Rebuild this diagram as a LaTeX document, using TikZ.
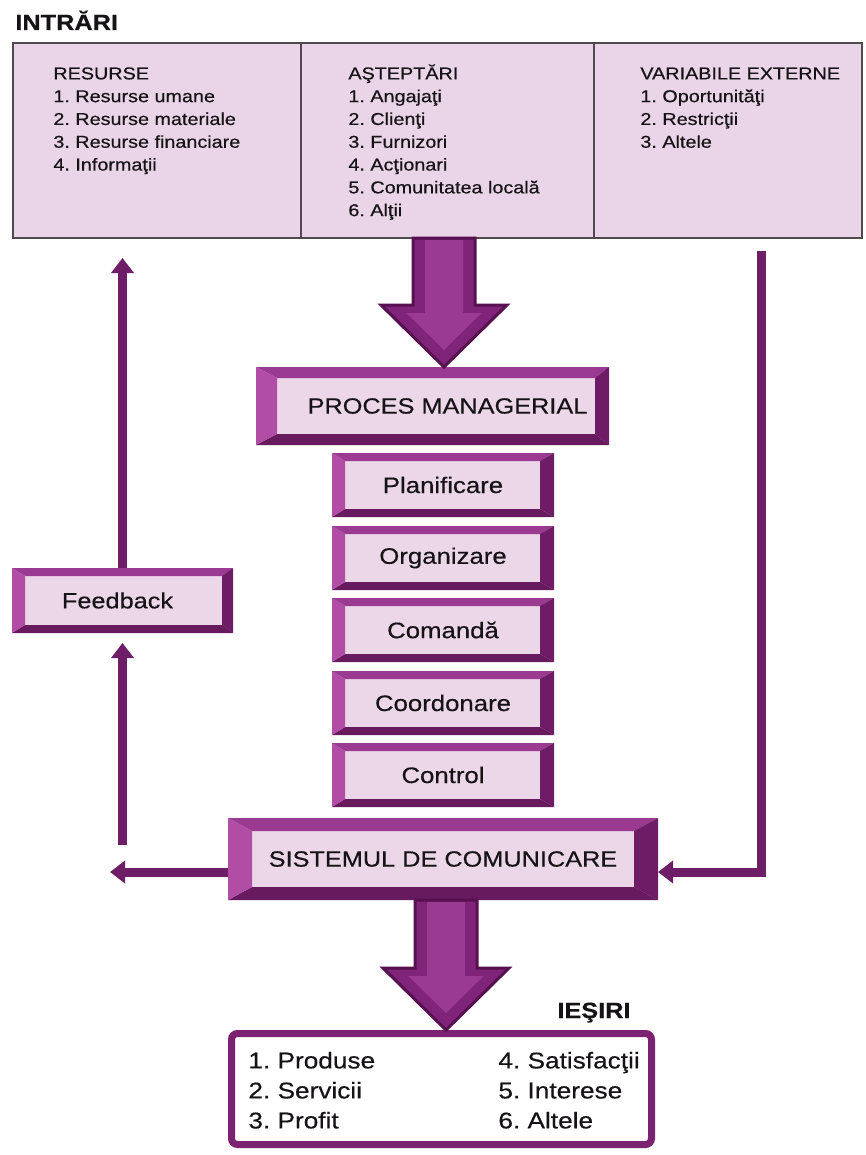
\documentclass[tikz,border=0pt]{standalone}
\usepackage{fontspec}
\setmainfont{Liberation Sans}[FakeStretch=1.15, FakeBold=0.4]
\usetikzlibrary{calc,arrows.meta}
\frenchspacing

\definecolor{cellfill}{HTML}{E9D5E7}
\definecolor{cellline}{HTML}{4F4A4E}
\definecolor{panel}{HTML}{ECD7E9}
\definecolor{facetopc}{HTML}{9A3A90}
\definecolor{faceleftc}{HTML}{B14DA5}
\definecolor{facerightc}{HTML}{6E1C65}
\definecolor{facebottomc}{HTML}{681A5F}
\definecolor{arrowbody}{HTML}{80247A}
\definecolor{arrowlight}{HTML}{9B3A92}
\definecolor{arrowedge}{HTML}{581150}
\definecolor{linkc}{HTML}{6E1E66}
\definecolor{outline}{HTML}{7B2271}
\definecolor{inkc}{HTML}{161316}

% bevelled frame around a node: #2 left, #3 right, #4 top, #5 bottom widths
\newcommand\bevelframe[5]{%
  \fill[facetopc] (#1.north west) -- (#1.north east) -- ($(#1.north east)+(-#3,#4)$) -- ($(#1.north west)+(#2,#4)$) -- cycle;
  \fill[facerightc] (#1.north east) -- (#1.south east) -- ($(#1.south east)+(-#3,-#5)$) -- ($(#1.north east)+(-#3,#4)$) -- cycle;
  \fill[facebottomc] (#1.south west) -- (#1.south east) -- ($(#1.south east)+(-#3,-#5)$) -- ($(#1.south west)+(#2,-#5)$) -- cycle;
  \fill[faceleftc] (#1.north west) -- (#1.south west) -- ($(#1.south west)+(#2,-#5)$) -- ($(#1.north west)+(#2,#4)$) -- cycle;
}

% broad block arrow from the top point #1 down to the level of #2
\newcommand\fatarrow[2]{%
  \filldraw[fill=arrowbody, draw=arrowedge, line width=1.5pt, line join=miter]
    let \p1=(#1), \p2=(#2) in
    (\x1-15.5pt,\y1) -- (\x1+15.5pt,\y1) -- (\x1+15.5pt,\y2+31pt) -- (\x1+31.5pt,\y2+31pt)
    -- (\x1,\y2) -- (\x1-31.5pt,\y2+31pt) -- (\x1-15.5pt,\y2+31pt) -- cycle;
  \fill[arrowlight]
    let \p1=(#1), \p2=(#2) in
    (\x1-9.5pt,\y1-1pt) -- (\x1+9.5pt,\y1-1pt) -- (\x1+9.5pt,\y2+27pt) -- (\x1+18.8pt,\y2+27pt)
    -- (\x1,\y2+8.5pt) -- (\x1-18.8pt,\y2+27pt) -- (\x1-9.5pt,\y2+27pt) -- cycle;
}

\begin{document}
\begin{tikzpicture}[x=0.5pt,y=-0.5pt,
  cell/.style={rectangle, draw=cellline, line width=1.2pt, fill=cellfill, inner sep=0pt,
    outer sep=0pt, minimum height=97.5pt, anchor=north west},
  listtxt/.style={anchor=north west, inner sep=0pt, align=left, text=inkc,
    font=\fontsize{8.6}{11.4}\selectfont},
  heading/.style={anchor=base west, inner sep=0pt, text=inkc,
    font=\bfseries\fontsize{11}{13}\selectfont},
  bevelbox/.style={rectangle, fill=panel, inner sep=0pt, outer sep=0pt, text=inkc,
    font=\fontsize{11}{13}\selectfont},
  stagebox/.style={bevelbox, minimum width=111pt, minimum height=32pt,
    font=\fontsize{11.2}{13}\selectfont},
  conn/.style={draw=linkc, line width=4.5pt, -{Triangle[length=7.5pt,width=11pt]}},
  outbox/.style={rectangle, draw=outline, line width=3.5pt, rounded corners=3pt, fill=white,
    inner sep=0pt, minimum width=210pt, minimum height=55.5pt},
  outtxt/.style={anchor=north west, inner sep=0pt, align=left, text=inkc,
    font=\fontsize{11.4}{15}\selectfont}]

\useasboundingbox[fill=white] (0,0) rectangle (866,1155);

% inputs
\node[heading] (intrari) at (15,30) {INTRĂRI};
\node[cell, minimum width=144pt] (res) at (13,43) {};
\node[cell, minimum width=146.5pt] (ast) at (301,43) {};
\node[cell, minimum width=134pt] (var) at (594,43) {};

\node[listtxt] (restxt) at ($(res.north west)+(40,20)$)
  {\strut RESURSE\\1. Resurse umane\\2. Resurse materiale\\3. Resurse financiare\\4. Informaţii};
\node[listtxt] (asttxt) at ($(ast.north west)+(47,20)$)
  {\strut AŞTEPTĂRI\\1. Angajaţi\\2. Clienţi\\3. Furnizori\\4. Acţionari\\5. Comunitatea locală\\6. Alţii};
\node[listtxt] (vartxt) at ($(var.north west)+(46,20)$)
  {\strut VARIABILE EXTERNE\\1. Oportunităţi\\2. Restricţii\\3. Altele};

% managerial process
\node[bevelbox, minimum width=176.5pt, minimum height=39pt] (pm) at (432.5,406)
  {\hspace*{15pt}PROCES MANAGERIAL};
\bevelframe{pm}{21}{14}{11}{11}

\node[stagebox] (plan) at (443,485) {Planificare};
\bevelframe{plan}{13}{14}{8}{8}
\node[stagebox] (org) at (443,558) {Organizare};
\bevelframe{org}{13}{14}{8}{8}
\node[stagebox] (cmd) at (443,630) {Comandă};
\bevelframe{cmd}{13}{14}{8}{8}
\node[stagebox] (coord) at (443,703) {Coordonare};
\bevelframe{coord}{13}{14}{8}{8}
\node[stagebox] (ctrl) at (443,775) {Control};
\bevelframe{ctrl}{13}{14}{8}{8}

% communication system
\node[bevelbox, minimum width=215pt, minimum height=41pt] (sc) at (443,859)
  {SISTEMUL DE COMUNICARE};
\bevelframe{sc}{24}{24}{13}{13}

% feedback
\node[bevelbox, minimum width=110.5pt, minimum height=32.5pt] (fb) at (122.5,600.5)
  {Feedback\hspace*{5pt}};
\bevelframe{fb}{13}{11}{8}{8}

% outputs
\node[heading] (iesiri) at (557,1018) {IEŞIRI};
\node[outbox] (out) at (441.5,1089) {};
\node[outtxt] (outl) at (248,1047) {\strut 1. Produse\\2. Servicii\\3. Profit};
\node[outtxt] (outr) at (498,1047) {\strut 4. Satisfacţii\\5. Interese\\6. Altele};

% block arrows
\coordinate (a1) at ($(ast.south)+(-3.5,0)$);
\fatarrow{a1}{pm.north}
\coordinate (a2) at ($(sc.south)+(3,0)$);
\fatarrow{a2}{out.north}

% feedback loop and external variables
\coordinate (fbtip) at (122.5,258);
\draw[conn] (fb.north) -- (fbtip);
\coordinate (fbtail) at (122.5,845);
\draw[conn, shorten >=5pt] (fbtail) -- (fb.south);
\coordinate (lefttip) at (110,872);
\draw[conn] ($(sc.west)+(0,13)$) -- (lefttip);
\coordinate (rtop) at (761,251);
\draw[conn] (rtop) |- ($(sc.east)+(0,13)$);

\end{tikzpicture}
\end{document}
